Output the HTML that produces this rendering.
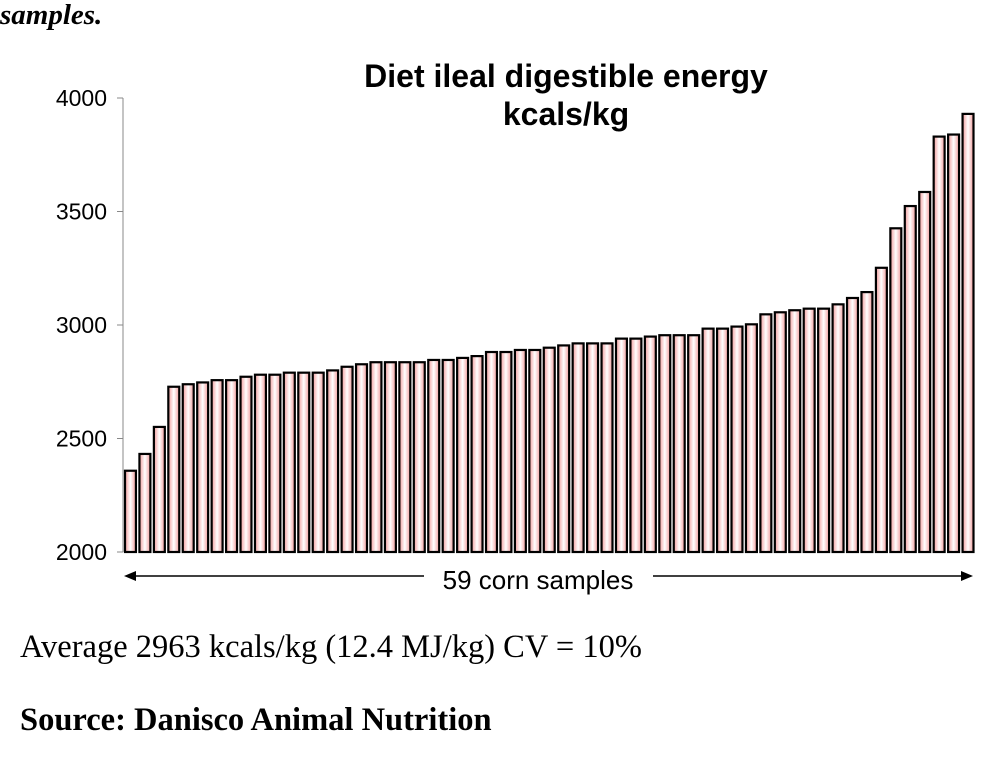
<!DOCTYPE html>
<html><head><meta charset="utf-8"><style>
body{margin:0;background:#fff;width:1001px;height:772px;overflow:hidden;position:relative}
.t{position:absolute;font-family:"Liberation Serif",serif;font-size:32.5px;line-height:36px;color:#000;white-space:nowrap}
</style></head><body>
<div class="t" style="left:0px;top:-3px;font-size:29px;font-weight:bold;font-style:italic">samples.</div>
<svg width="1001" height="772" style="position:absolute;left:0;top:0">
<defs><linearGradient id="g" x1="0" x2="1" y1="0" y2="0">
<stop offset="0" stop-color="#f19a9a"/><stop offset="0.5" stop-color="#ffffff"/><stop offset="1" stop-color="#f19a9a"/></linearGradient></defs>
<g id="plot"></g>
</svg>
<div class="t" style="left:20px;top:629px">Average 2963 kcals/kg (12.4 MJ/kg) CV = 10%</div>
<div class="t" style="left:20px;top:702px;font-weight:bold">Source: Danisco Animal Nutrition</div>
<script>
const values=[2358,2432,2551,2728,2739,2747,2757,2757,2772,2781,2781,2790,2790,2790,2800,2816,2827,2836,2836,2836,2836,2846,2846,2855,2863,2881,2881,2890,2890,2900,2910,2919,2919,2919,2940,2940,2949,2955,2955,2955,2984,2984,2993,3003,3047,3056,3065,3072,3072,3091,3119,3145,3252,3426,3524,3586,3830,3839,3930];
const ticks=[2000,2500,3000,3500,4000];
const yMin=2000,yMax=4000,yTop=98,yBot=552,x0=123,x1=975;
const ns="http://www.w3.org/2000/svg";
const g=document.getElementById('plot');
function yScale(v){return yBot-(v-yMin)/(yMax-yMin)*(yBot-yTop);}
function mk(t,a){const e=document.createElementNS(ns,t);for(const k in a)e.setAttribute(k,a[k]);g.appendChild(e);return e;}
const pitch=(x1-x0)/values.length;
values.forEach((v,i)=>{
 const r=mk('rect',{x:x0+i*pitch+2,y:yScale(v),width:pitch-3.5,height:yBot-yScale(v),fill:'url(#g)',stroke:'#000','stroke-width':2.2});
 
 
});
const ax=mk('line',{x1:x0,x2:x0,y1:yTop,y2:yBot,stroke:'#888','stroke-width':1});


ticks.forEach(t=>{
 mk('line',{x1:x0-6,x2:x0,y1:yScale(t),y2:yScale(t),stroke:'#888'});
 const tx=mk('text',{x:107,y:yScale(t)+8,'text-anchor':'end','font-family':'Liberation Sans, sans-serif','font-size':23});
 tx.textContent=t;
 
 
});
const t1=mk('text',{x:566,y:87,'text-anchor':'middle','font-family':'Liberation Sans, sans-serif','font-size':32,'font-weight':'bold'});
t1.textContent='Diet ileal digestible energy';


const t2=mk('text',{x:566,y:125,'text-anchor':'middle','font-family':'Liberation Sans, sans-serif','font-size':32,'font-weight':'bold'});
t2.textContent='kcals/kg';


mk('line',{x1:132,x2:964,y1:576,y2:576,stroke:'#000','stroke-width':1.5});
mk('polygon',{points:'124,576 136,571 136,581',fill:'#000'});
mk('polygon',{points:'973,576 961,571 961,581',fill:'#000'});
mk('rect',{x:424,y:560,width:229,height:32,fill:'#fff'});
const xl=mk('text',{x:538,y:589,'text-anchor':'middle','font-family':'Liberation Sans, sans-serif','font-size':26});
xl.textContent='59 corn samples';


</script>
</body></html>
